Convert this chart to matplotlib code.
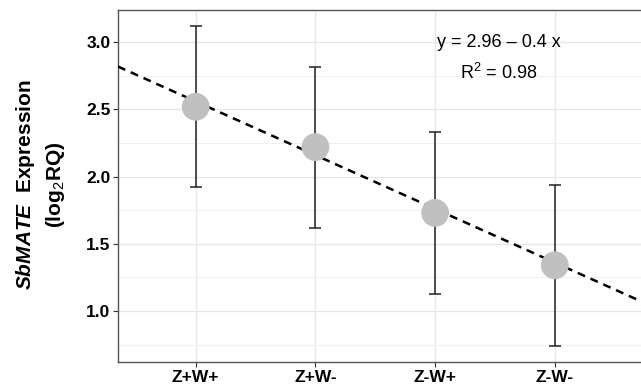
import numpy as np
import matplotlib
matplotlib.use("Agg")
import matplotlib.pyplot as plt
from matplotlib.ticker import MultipleLocator

plt.rcParams['font.family'] = ['Liberation Sans', 'DejaVu Sans']
plt.rcParams['mathtext.fontset'] = 'custom'
plt.rcParams['mathtext.it'] = 'Liberation Sans:italic:bold'
plt.rcParams['mathtext.rm'] = 'Liberation Sans'

groups = ["Z+W+", "Z+W-", "Z-W+", "Z-W-"]
expr = [2.52, 2.22, 1.73, 1.34]
err = [0.60, 0.60, 0.60, 0.60]
intercept, slope = 2.96, -0.4

fig = plt.figure(figsize=(6.41, 3.88), dpi=100)
ax = fig.add_axes([0.184, 0.067, 0.816, 0.907])

x = np.arange(1, len(groups) + 1)
xlim = (0.35, 4.72)

# regression line across the panel
xl = np.array(xlim)
ax.plot(xl, intercept + slope * xl, color='black', ls=(0, (3.2, 2.4)), lw=1.8, zorder=3)

ax.errorbar(x, expr, yerr=err, fmt='none', ecolor='#222222', elinewidth=1.1,
            capsize=4.5, capthick=1.1, zorder=4)
ax.scatter(x, expr, s=400, color='#c0c0c0', edgecolors='none', zorder=5)

ax.text(3.53, 3.0, "y = 2.96 \u2013 0.4 x", ha='center', va='center', fontsize=13)
ax.text(3.53, 2.77, "R$^\\mathrm{2}$ = 0.98", ha='center', va='center', fontsize=13)

ax.set_xlim(*xlim)
ax.set_ylim(0.62, 3.24)
ax.set_xticks(x)
ax.set_xticklabels(groups, fontweight='bold', fontsize=12.5)
ax.yaxis.set_minor_locator(MultipleLocator(0.25))
ax.set_yticks([1.0, 1.5, 2.0, 2.5, 3.0])
ax.set_yticklabels(["1.0", "1.5", "2.0", "2.5", "3.0"], fontweight='bold', fontsize=12.5)
ax.tick_params(axis='both', length=3.5, color='#333333', pad=2)
ax.tick_params(axis='y', which='minor', length=0)

ax.grid(True, which='major', color='#e6e6e6', lw=0.9)
ax.grid(True, which='minor', axis='y', color='#f0f0f0', lw=0.7)
ax.set_axisbelow(True)
for side in ['left', 'bottom', 'top']:
    ax.spines[side].set_color('#555555')
    ax.spines[side].set_linewidth(1.0)
ax.spines['right'].set_visible(False)

fig.text(0.04, 0.523, "$\\it{SbMATE}$  Expression", rotation=90,
         ha='center', va='center', fontsize=15, fontweight='bold')
fig.text(0.087, 0.523, "(log$_\\mathrm{2}$RQ)", rotation=90,
         ha='center', va='center', fontsize=15, fontweight='bold')

fig.savefig("out.png", dpi=100)
